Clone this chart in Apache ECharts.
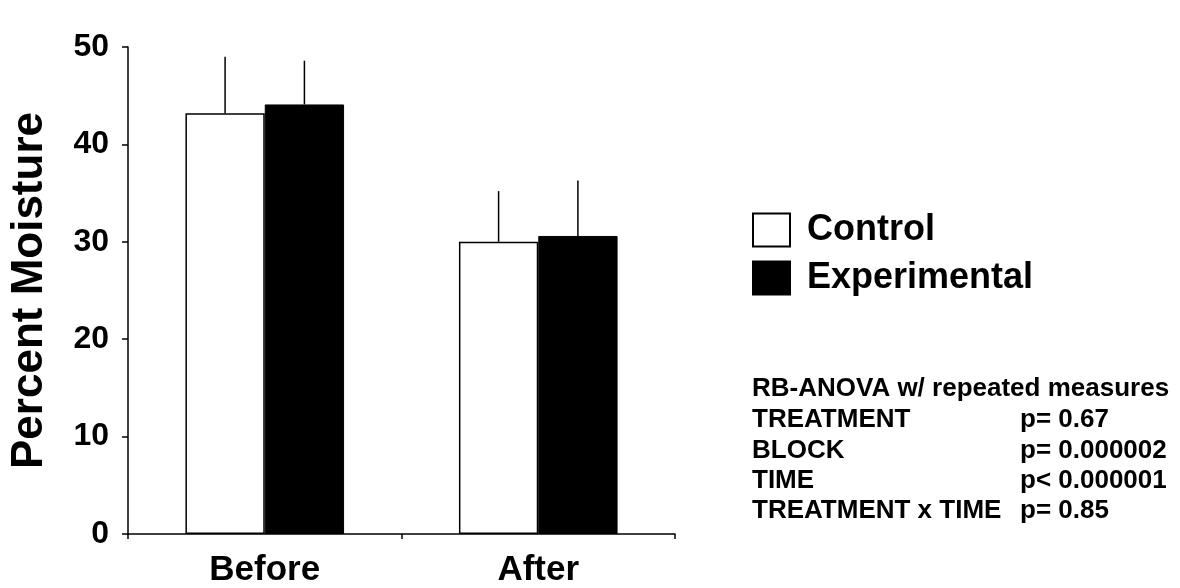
<!DOCTYPE html>
<html>
<head>
<meta charset="utf-8">
<script src="https://cdn.jsdelivr.net/npm/echarts@6/dist/echarts.min.js"></script>
<style>
html,body{margin:0;padding:0;background:#fff;}
#c{width:1180px;height:588px;}
</style>
</head>
<body>
<div id="c"></div>
<script>
var categories = ['Before', 'After'];
var controlMean = [43.2, 30.0];
var controlErr = [5.8, 5.2];
var experimentalMean = [44.1, 30.6];
var experimentalErr = [4.5, 5.7];
var yTicks = [0, 10, 20, 30, 40, 50];
var statsHeader = 'RB-ANOVA w/ repeated measures';
var statsNames = ['TREATMENT', 'BLOCK', 'TIME', 'TREATMENT x TIME'];
var statsValues = ['p= 0.67', 'p= 0.000002', 'p< 0.000001', 'p= 0.85'];

var FONT = '"Liberation Sans", Arial, Helvetica, sans-serif';
var GAP = 0.42;

function errSeries(means, errs, side) {
  return {
    type: 'custom',
    silent: true,
    z: 5,
    data: means.map(function (m, i) { return [i, m, m + errs[i]]; }),
    renderItem: function (params, api) {
      var base = api.coord([api.value(0), api.value(1)]);
      var top = api.coord([api.value(0), api.value(2)]);
      var cw = api.size([1, 0])[0];
      var bw = cw * (1 - GAP) / 2;
      var x = base[0] + side * bw / 2;
      return {
        type: 'line',
        shape: { x1: x, y1: base[1], x2: x, y2: top[1] },
        style: { stroke: '#000', lineWidth: 1.5 }
      };
    }
  };
}

var statsGraphics = [{
  type: 'text', left: 752, top: 376,
  style: { text: statsHeader, font: 'bold 26px ' + FONT, fill: '#000' }
}];
statsNames.forEach(function (n, i) {
  statsGraphics.push({
    type: 'text', left: 752, top: 407 + i * 30.4,
    style: { text: n, font: 'bold 26px ' + FONT, fill: '#000' }
  });
  statsGraphics.push({
    type: 'text', left: 1020, top: 407 + i * 30.4,
    style: { text: statsValues[i], font: 'bold 26px ' + FONT, fill: '#000' }
  });
});

var chart = echarts.init(document.getElementById('c'), null, { renderer: 'canvas' });
chart.setOption({
  backgroundColor: '#fff',
  animation: false,
  textStyle: { fontFamily: FONT },
  grid: { left: 128, right: 505, top: 47, bottom: 50, containLabel: false },
  legend: {
    orient: 'vertical',
    left: 747,
    top: 207,
    itemWidth: 37,
    itemHeight: 33,
    itemGap: 12,
    selectedMode: false,
    icon: 'rect',
    textStyle: { fontSize: 36, fontWeight: 'bold', color: '#000', fontFamily: FONT, padding: [6, 0, 0, 12] },
    data: ['Control', 'Experimental']
  },
  xAxis: {
    type: 'category',
    data: categories,
    axisLine: { lineStyle: { color: '#000', width: 1.5 } },
    axisTick: { show: true, length: 5, lineStyle: { color: '#000', width: 1.5 } },
    axisLabel: { fontSize: 35, fontWeight: 'bold', color: '#000', margin: 19, fontFamily: FONT }
  },
  yAxis: {
    type: 'value',
    min: 0, max: 50, interval: 10,
    name: 'Percent Moisture',
    nameLocation: 'middle',
    nameGap: 76,
    nameTextStyle: { fontSize: 44, fontWeight: 'bold', color: '#000', fontFamily: FONT },
    axisLine: { show: true, lineStyle: { color: '#000', width: 1.5 } },
    axisTick: { show: true, length: 6, lineStyle: { color: '#000', width: 1.5 } },
    axisLabel: {
      fontSize: 32, fontWeight: 'bold', color: '#000', margin: 19, fontFamily: FONT,
      formatter: function (v) { return yTicks.indexOf(v) >= 0 ? String(v) : ''; }
    },
    splitLine: { show: false }
  },
  series: [
    {
      name: 'Control', type: 'bar', data: controlMean,
      barGap: '0%', barCategoryGap: (GAP * 100) + '%',
      itemStyle: { color: '#fff', borderColor: '#000', borderWidth: 1.5 }
    },
    {
      name: 'Experimental', type: 'bar', data: experimentalMean,
      barGap: '0%', barCategoryGap: (GAP * 100) + '%',
      itemStyle: { color: '#000', borderColor: '#000', borderWidth: 1 }
    },
    errSeries(controlMean, controlErr, -1),
    errSeries(experimentalMean, experimentalErr, 1)
  ],
  graphic: statsGraphics
});
</script>
</body>
</html>
